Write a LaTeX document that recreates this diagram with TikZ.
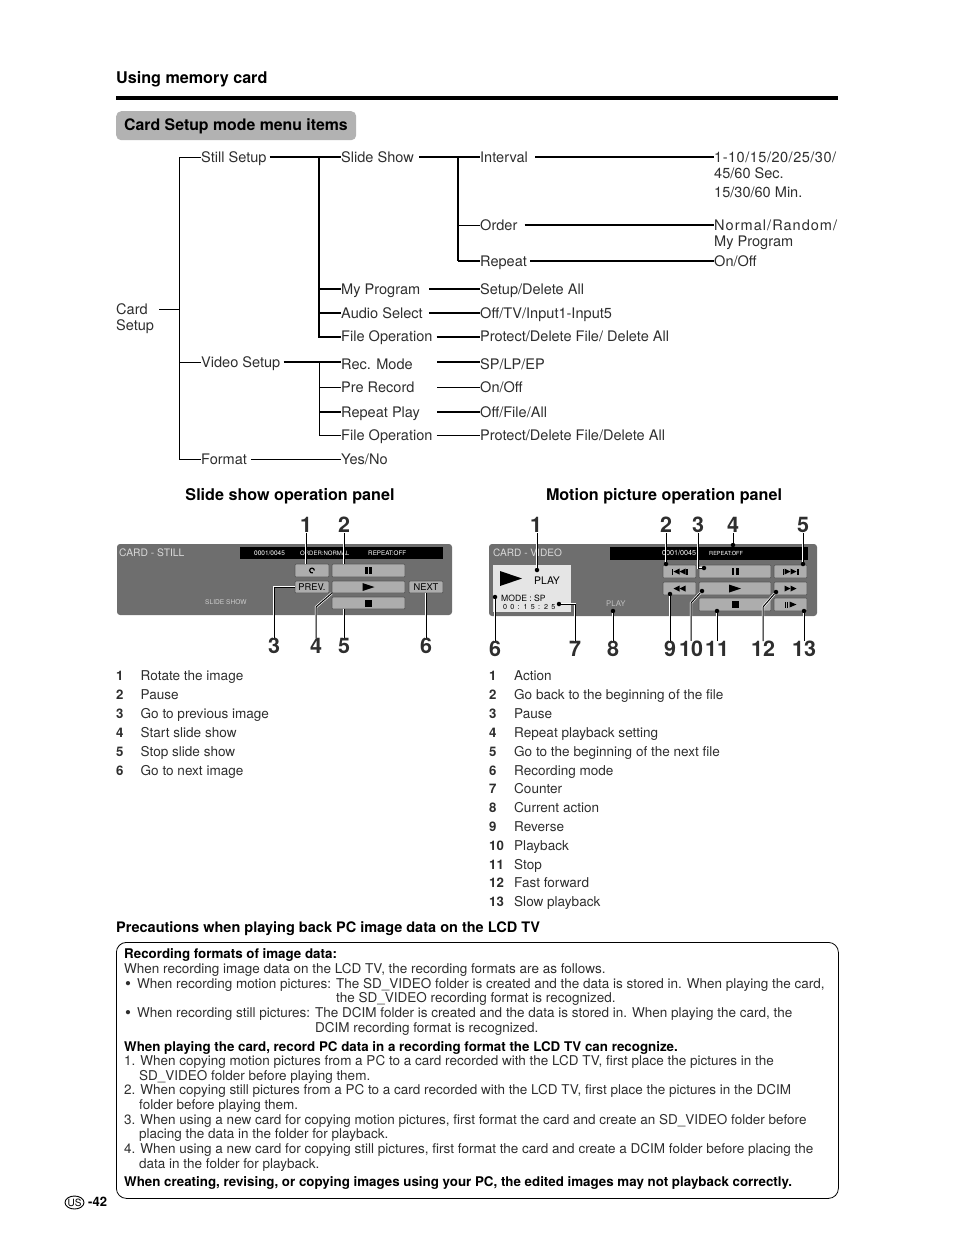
\documentclass[tikz,border=0pt]{standalone}
\usepackage{fontspec}
\setmainfont{TeX Gyre Heros}
\usetikzlibrary{calc,shapes.geometric}
\definecolor{ink}{gray}{0.18}
\definecolor{panelgray}{gray}{0.43}
\definecolor{btngray}{gray}{0.68}
\newcommand{\fs}[1]{\fontsize{#1}{#1}\selectfont}
\newcommand{\bul}{\makebox[12pt][l]{\fs{17}\raisebox{-1pt}{•}}}
\tikzset{
 tx/.style={inner sep=0pt,anchor=west,text height=12pt,text depth=1.4pt,text=ink,font=\fs{14.55}},
 thin line/.style={draw=black,line width=0.8pt},
 thick line/.style={draw=black,line width=2pt},
 med line/.style={draw=black,line width=1.2pt},
 head/.style={inner sep=0pt,anchor=west,text height=13pt,text depth=2pt,font=\bfseries\fs{16.15},text=black},
 num/.style={inner sep=0pt,anchor=center,font=\bfseries\fs{21.5},text=ink},
 listn/.style={inner sep=0pt,anchor=west,text height=11pt,text depth=2pt,font=\bfseries\fs{13.2},text=ink},
 listt/.style={inner sep=0pt,anchor=west,text height=11pt,text depth=2pt,font=\fs{13.55},text=ink},
 body/.style={inner sep=0pt,anchor=west,text height=11pt,text depth=2pt,font=\fs{13.5},text=ink},
 bodyb/.style={inner sep=0pt,anchor=west,text height=11pt,text depth=2pt,font=\bfseries\fs{13.34},text=black},
 btn/.style={draw=black!65,fill=btngray,rounded corners=1pt,line width=0.7pt,inner sep=0pt,font=\fs{9.3},text=black},
 ptx/.style={inner sep=0pt,anchor=west,text=white},
 call/.style={draw=black,line width=1pt,preaction={draw=white,line width=2.4pt}},
 dot/.style={circle,fill=black,inner sep=0pt,minimum size=4.5pt}
}
\begin{document}
\begin{tikzpicture}[x=1pt,y=-1pt]
\useasboundingbox (0,0) rectangle (954,1235);
% header
\node[head] (title) at (116,78) {Using memory card};
\coordinate (ruleL) at (116,98); \coordinate (ruleR) at (838,98);
\draw[line width=4pt] (ruleL) -- (ruleR);
\node[fill=black!30,rounded corners=5pt,inner sep=0pt,minimum width=240pt,minimum height=29pt,anchor=north west] (tag) at (116,111) {};
\node[head,font=\bfseries\fs{15.85}] (tagt) at (124,124.5) {Card Setup mode menu items};
% tree nodes
\node[tx] (card1) at (116,309) {Card};
\node[tx] (card2) at (116,325) {Setup};
\coordinate (trunkT) at (179.5,157); \coordinate (trunkB) at (179.5,459);
\coordinate (trunkM) at (179.5,309);
\node[tx] (still) at (201,157) {Still Setup};
\node[tx] (video) at (201,362) {Video Setup};
\node[tx] (format) at (201,459) {Format};
\node[tx] (slide) at (341,157) {Slide Show};
\node[tx] (prog) at (341,289) {My Program};
\node[tx] (audio) at (341,313) {Audio Select};
\node[tx] (file) at (341,336.5) {File Operation};
\node[tx] (rec) at (341,364) {Rec. Mode};
\node[tx] (pre) at (341,387) {Pre Record};
\node[tx] (rep) at (341,412) {Repeat Play};
\node[tx] (file2) at (341,435) {File Operation};
\node[tx] (yes) at (341,459) {Yes/No};
\node[tx] (int) at (480,157) {Interval};
\node[tx] (ord) at (480,225) {Order};
\node[tx] (rpt) at (480,261) {Repeat};
\node[tx] (setup) at (480,289) {Setup/Delete All};
\node[tx] (off) at (480,313) {Off/TV/Input1-Input5};
\node[tx] (prot) at (480,336.5) {Protect/Delete File/ Delete All};
\node[tx] (sp) at (480,364) {SP/LP/EP};
\node[tx] (onoff2) at (480,387) {On/Off};
\node[tx] (ofa) at (480,412) {Off/File/All};
\node[tx] (prot2) at (480,435) {Protect/Delete File/Delete All};
\node[tx] (v1) at (714,157) {\addfontfeature{LetterSpace=3.4}1-10/15/20/25/30/};
\node[tx] (v2) at (714,173) {45/60 Sec.};
\node[tx] (v3) at (714,192) {15/30/60 Min.};
\node[tx] (v4) at (714,225) {\addfontfeature{LetterSpace=7}Normal/Random/};
\node[tx] (v5) at (714,241) {My Program};
\node[tx] (v6) at (714,261) {On/Off};
% tree lines
\draw[thin line] ($(card1.west)+(43,0)$) -- (trunkM);
\draw[thin line] (still.west) -- (trunkT) -- (trunkB) -- (format.west);
\draw[thin line] (trunkM |- video.west) -- (video.west);
\draw[thick line] ($(still.east)+(3,0)$) -- (slide.west);
\coordinate (s1) at (319,157);
\coordinate (s2) at (319,336.5);
\draw[thick line] (s1) -- (s2) -- (file.west);
\draw[thick line] (s1 |- prog.west) -- (prog.west);
\draw[thick line] (s1 |- audio.west) -- (audio.west);
\coordinate (s3) at (458,157);
\coordinate (s4) at (458,261);
\draw[thick line] ($(slide.east)+(5,0)$) -- (int.west);
\draw[thick line] (s3) -- (s4);
\draw[med line] (s4) -- (rpt.west);
\draw[thin line] (s3 |- ord.west) -- (ord.west);
\draw[thick line] ($(int.east)+(7,0)$) -- (v1.west);
\draw[thick line] ($(ord.east)+(7,0)$) -- (ord.east -| v4.west);
\draw[thick line] ($(rpt.east)+(3,0)$) -- (v6.west);
\draw[thick line] ($(prog.east)+(9,0)$) -- (setup.west);
\draw[thick line] ($(audio.east)+(6,0)$) -- (off.west);
\draw[thick line] ($(file.east)+(4,0)$) -- (prot.west);
% video
\coordinate (w1) at (319,362); \coordinate (w2) at (319,435);
\draw[thick line] ($(video.east)+(3,0)$) -- (video.east -| rec.west);
\draw[thin line] (w1) -- (w2) -- (file2.west);
\draw[thin line] (w1 |- pre.west) -- (pre.west);
\draw[thick line] (w1 |- rep.west) -- (rep.west);
\coordinate (recS) at (437,362);
\draw[thick line] (recS) -- (recS -| sp.west);
\coordinate (preS) at (437,387);
\draw[thin line] (preS) -- (onoff2.west);
\coordinate (repS) at (437,412);
\draw[thick line] (repS) -- (ofa.west);
\draw[thin line] ($(file2.east)+(4,0)$) -- (prot2.west);
\draw[thin line] ($(format.east)+(4,0)$) -- (yes.west);
% panel headings
\node[head,anchor=center] (hs) at (290,494.5) {Slide show operation panel};
\node[head,anchor=center] (hm) at (664,494.5) {Motion picture operation panel};
% SLIDE PANEL
\fill[panelgray,rounded corners=3pt] (117,544) rectangle (452,615);
\fill[black] (240,547) rectangle (443,559);
\node[ptx,font=\fs{10.3},text=black!15] (st1) at (119,553) {CARD - STILL};
\node[ptx,font=\fs{6.5}] (st2) at (254,553) {0001/0045};
\node[ptx,font=\fs{6}] (st3) at (300,553) {ORDER:NORMAL};
\node[ptx,font=\fs{6.3}] (st4) at (368,553) {REPEAT:OFF};
\node[ptx,font=\fs{6.6},text=black!20] (st5) at (205,602) {SLIDE SHOW};
\node[btn,minimum width=34pt,minimum height=13pt] (srot) at (312,570.5) {};
\node[btn,minimum width=73pt,minimum height=13pt] (spau) at (368.5,570.5) {};
\node[btn,minimum width=34pt,minimum height=12pt] (sprev) at (312,587) {PREV.};
\node[btn,minimum width=73pt,minimum height=12pt] (spla) at (368.5,587) {};
\node[btn,minimum width=34pt,minimum height=12pt] (snext) at (426,587) {NEXT};
\node[btn,minimum width=73pt,minimum height=12pt] (ssto) at (368.5,603) {};
\draw[line width=1.2pt] ([xshift=2.4pt]srot.center) arc[start angle=0,end angle=290,radius=2.4pt];
\fill[black] ([xshift=-3.5pt,yshift=3.5pt]spau.center) rectangle ++(2.6,7);
\fill[black] ([xshift=0.9pt,yshift=3.5pt]spau.center) rectangle ++(2.6,7);
\fill[black] ([xshift=-6pt,yshift=4pt]spla.center) -- ++(12,4) -- ++(-12,4) -- cycle;
\fill[black] ([xshift=-3.5pt,yshift=3.5pt]ssto.center) rectangle ++(7,7);
% slide callouts
\node[num] (n1) at (306,525) {1};
\node[num] (n2) at (344,525) {2};
\node[num] (n3) at (274,646) {3};
\node[num] (n4) at (316,646) {4};
\node[num] (n5) at (344,646) {5};
\node[num] (n6) at (426,646) {6};
\draw[call] (n1.south) -- (n1.south |- srot.north);
\draw[call] (n2.south) -- (n2.south |- spau.north);
\coordinate (c3) at (274,587);
\draw[call] (n3.north) -- (c3) -- (sprev.west);
\coordinate (c4) at (316,607);
\draw[call] (n4.north) -- (c4) -- (spla.south west);
\draw[call] (n5.north) -- (n5.north |- ssto.south);
\draw[call] (n6.north) -- (n6.north |- snext.south);
% VIDEO PANEL
\fill[panelgray,rounded corners=3pt] (489,544) rectangle (817,616);
\fill[black] (610,547) rectangle (808,560);
\node[ptx,font=\fs{10.1},text=black!15] (vt1) at (493,553) {CARD - VIDEO};
\node[ptx,font=\fs{7.2}] (vt2) at (662,553) {0001/0045};
\node[ptx,font=\fs{5.6}] (vt3) at (709,553) {REPEAT:OFF};
\node[fill=black!10,inner sep=0pt,minimum width=78pt,minimum height=47pt,anchor=north west] (lcd) at (493,565) {};
\fill[black] (500,571) -- (522,578.5) -- (500,586) -- cycle;
\node[ptx,font=\fs{10.4},text=black] (vp) at (534,581) {PLAY};
\node[ptx,font=\fs{8.6},text=black] (vm) at (501,598) {MODE : SP};
\node[ptx,font=\fs{7.2},text=black] (vc) at (503,607) {\addfontfeature{LetterSpace=16}0 0 : 1 5 : 2 5};
\node[ptx,font=\fs{7.8},text=black!25] (vcur) at (606,604) {PLAY};
\node[btn,minimum width=33pt,minimum height=13pt] (b2) at (679.5,571.5) {};
\node[btn,minimum width=72pt,minimum height=13pt] (b3) at (735,571.5) {};
\node[btn,minimum width=33pt,minimum height=13pt] (b5) at (790.5,571.5) {};
\node[btn,minimum width=33pt,minimum height=13pt] (b9) at (679.5,588.5) {};
\node[btn,minimum width=72pt,minimum height=13pt] (b10) at (735,588.5) {};
\node[btn,minimum width=33pt,minimum height=13pt] (b12) at (790.5,588.5) {};
\node[btn,minimum width=72pt,minimum height=13pt] (b11) at (735,604.5) {};
\node[btn,minimum width=33pt,minimum height=13pt] (b13) at (790.5,604.5) {};
% icons
\fill[black] ([xshift=-8pt,yshift=3pt]b2.center) rectangle ++(1.6,6);
\fill[black] ([xshift=-6pt]b2.center) -- ++(6,-3) -- ++(0,6) -- cycle;
\fill[black] (b2.center) -- ++(6,-3) -- ++(0,6) -- cycle;
\fill[black] ([xshift=6.4pt,yshift=3pt]b2.center) rectangle ++(1.6,6);
\fill[black] ([xshift=-3.5pt,yshift=3.5pt]b3.center) rectangle ++(2.6,7);
\fill[black] ([xshift=0.9pt,yshift=3.5pt]b3.center) rectangle ++(2.6,7);
\fill[black] ([xshift=-8pt,yshift=3pt]b5.center) rectangle ++(1.6,6);
\fill[black] ([xshift=-6pt,yshift=3pt]b5.center) -- ++(6,3) -- ++(-6,3) -- cycle;
\fill[black] ([yshift=3pt]b5.center) -- ++(6,3) -- ++(-6,3) -- cycle;
\fill[black] ([xshift=6.4pt,yshift=3pt]b5.center) rectangle ++(1.6,6);
\fill[black] ([xshift=-6pt]b9.center) -- ++(6,-3) -- ++(0,6) -- cycle;
\fill[black] (b9.center) -- ++(6,-3) -- ++(0,6) -- cycle;
\fill[black] ([xshift=-6pt,yshift=4pt]b10.center) -- ++(12,4) -- ++(-12,4) -- cycle;
\fill[black] ([xshift=-6pt,yshift=3pt]b12.center) -- ++(6,3) -- ++(-6,3) -- cycle;
\fill[black] ([yshift=3pt]b12.center) -- ++(6,3) -- ++(-6,3) -- cycle;
\fill[black] ([xshift=-3.5pt,yshift=3.5pt]b11.center) rectangle ++(7,7);
\fill[black] ([xshift=-6pt,yshift=3pt]b13.center) rectangle ++(1.3,6);
\fill[black] ([xshift=-3.5pt,yshift=3pt]b13.center) rectangle ++(1.3,6);
\fill[black] ([xshift=-1pt,yshift=3pt]b13.center) -- ++(7,3) -- ++(-7,3) -- cycle;
% video callouts
\node[num] (m1) at (536,525) {1};
\node[num] (m2) at (666,525) {2};
\node[num] (m3) at (698,525) {3};
\node[num] (m4) at (733,525) {4};
\node[num] (m5) at (803,525) {5};
\node[num] (m6) at (495,649) {6};
\node[num] (m7) at (575,649) {7};
\node[num] (m8) at (613,649) {8};
\node[num] (m9) at (670,649) {9};
\node[num] (m10) at (691,649) {10};
\node[num] (m11) at (717,649) {11};
\node[num] (m12) at (763,649) {12};
\node[num] (m13) at (804,649) {13};
\node[dot] (d1) at (537,570) {};
\node[dot] (d2) at (666,564) {};
\node[dot] (d3) at (704,568) {};
\node[dot] (d4) at (733,545) {};
\node[dot] (d5) at (803,564) {};
\node[dot] (d6) at (495,597) {};
\node[dot] (d7) at (559,604) {};
\node[dot] (d8) at (613,611) {};
\node[dot] (d9) at (670,594) {};
\node[dot] (d10) at (702,591) {};
\node[dot] (d11) at (717,611) {};
\node[dot] (d12) at (776,592) {};
\node[dot] (d13) at (804,611) {};
\draw[call] (m1.south -| d1) -- (d1);
\draw[call] (m2.south) -- (d2);
\coordinate (k3) at (698,568);
\draw[call] (m3.south) -- (k3) -- (d3);
\draw[call] (m4.south -| d4) -- (d4);
\draw[call] (m5.south) -- (d5);
\draw[call] (m6.north) -- (d6);
\coordinate (k7) at (575,604);
\draw[call] (m7.north) -- (k7) -- (d7);
\draw[call] (m8.north) -- (d8);
\draw[call] (m9.north) -- (d9);
\coordinate (k10) at (691,603);
\draw[call] (m10.north) -- (k10) -- (d10);
\draw[call] (m11.north) -- (d11);
\coordinate (k12) at (763,607);
\draw[call] (m12.north) -- (k12) -- (d12);
\draw[call] (m13.north) -- (d13);
% lists
\foreach \i/\t/\y in {1/Rotate the image/676,2/Pause/695,3/Go to previous image/714,4/Start slide show/733,5/Stop slide show/751.5,6/Go to next image/770.5}{
 \node[listn] (ln\i) at (116,\y) {\i};
 \node[listt] (lt\i) at (140.5,\y) {\t};
}
\foreach \i/\t/\y in {1/Action/675.5,2/Go back to the beginning of the file/694.5,3/Pause/713.5,4/Repeat playback setting/732.5,5/Go to the beginning of the next file/751.5,6/Recording mode/770.5,7/Counter/788.5,8/Current action/807.5,9/Reverse/826.5,10/Playback/845.5,11/Stop/864.5,12/Fast forward/882.5,13/Slow playback/901.5}{
 \node[listn] (rn\i) at (489,\y) {\i};
 \node[listt] (rt\i) at (514,\y) {\t};
}
% precautions
\node[head,font=\bfseries\fs{14.5}] (prec) at (116,927) {Precautions when playing back PC image data on the LCD TV};
\node[draw=black,line width=0.8pt,rounded corners=10pt,inner sep=0pt,minimum width=722pt,minimum height=256pt,anchor=north west] (box) at (116,942) {};
\node[bodyb] (t1) at (124,953.5) {Recording formats of image data:};
\node[body] (t2) at (124,968.5) {When recording image data on the LCD TV, the recording formats are as follows.};
\node[body] (t3) at (125,983.5) {\bul When recording motion pictures: The SD\_VIDEO folder is created and the data is stored in. When playing the card,};
\node[body] (t4) at (336,998) {the SD\_VIDEO recording format is recognized.};
\node[body] (t5) at (125,1012.5) {\bul When recording still pictures: The DCIM folder is created and the data is stored in. When playing the card, the};
\node[body] (t6) at (315,1027.5) {DCIM recording format is recognized.};
\node[bodyb] (t7) at (124,1047) {When playing the card, record PC data in a recording format the LCD TV can recognize.};
\node[body] (t8) at (124,1061) {1. When copying motion pictures from a PC to a card recorded with the LCD TV, first place the pictures in the};
\node[body] (t9) at (139,1075.5) {SD\_VIDEO folder before playing them.};
\node[body] (t10) at (124,1090) {2. When copying still pictures from a PC to a card recorded with the LCD TV, first place the pictures in the DCIM};
\node[body] (t11) at (139,1104.5) {folder before playing them.};
\node[body] (t12) at (124,1119.5) {3. When using a new card for copying motion pictures, first format the card and create an SD\_VIDEO folder before};
\node[body] (t13) at (139,1134) {placing the data in the folder for playback.};
\node[body] (t14) at (124,1148.5) {4. When using a new card for copying still pictures, first format the card and create a DCIM folder before placing the};
\node[body] (t15) at (139,1163.5) {data in the folder for playback.};
\node[bodyb] (t16) at (124,1181.5) {When creating, revising, or copying images using your PC, the edited images may not playback correctly.};
% footer
\node[draw=black,line width=0.9pt,ellipse,inner sep=-2pt,minimum width=19pt,minimum height=13pt,font=\fs{10}] (us) at (74.5,1202.5) {US};
\node[inner sep=0pt,anchor=west,font=\bfseries\fs{13}] (pg) at (88,1202) {-42};
\end{tikzpicture}
\end{document}
